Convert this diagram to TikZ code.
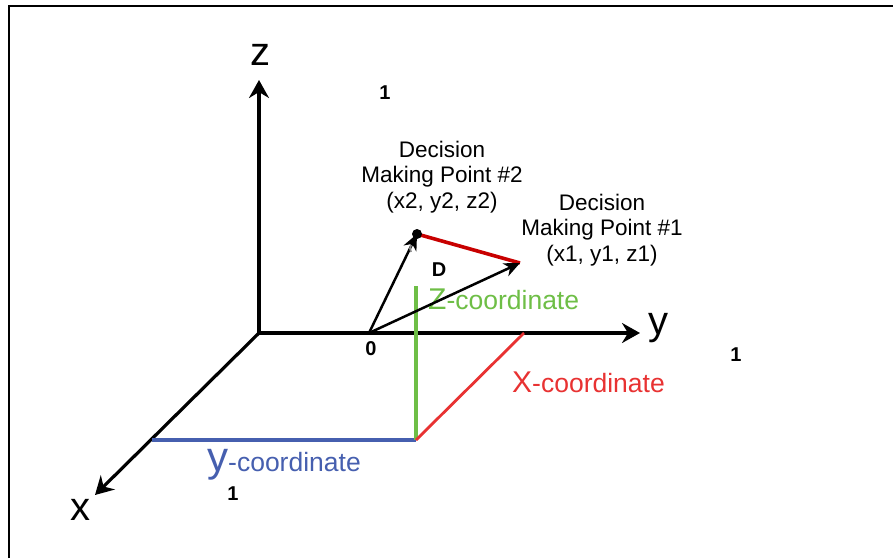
\documentclass[tikz,border=0pt]{standalone}
\usepackage{fontspec}
\setmainfont{Liberation Sans}
\usetikzlibrary{arrows.meta}
\definecolor{zgreen}{RGB}{110,190,70}
\definecolor{xred}{RGB}{232,50,50}
\definecolor{yblue}{RGB}{70,95,175}
\definecolor{dred}{RGB}{200,0,0}
\begin{document}
\begin{tikzpicture}[x=1pt,y=-1pt,
  axis/.style={line width=3.2pt,-{Stealth[length=18pt,width=20pt,inset=6pt]}},
  vec/.style={line width=2.5pt,-{Stealth[length=16pt,width=14pt,inset=5pt]}},
  axlabel/.style={font=\fontsize{40}{40}\selectfont,text=black},
  one/.style={font=\bfseries\fontsize{20}{20}\selectfont},
  dtext/.style={font=\fontsize{22.5}{25.5}\selectfont,align=center},
  every node/.style={inner sep=0pt}]
\useasboundingbox (0,0) rectangle (893,558);
\draw[line width=2pt] (9,558) -- (9,6) -- (893,6);
% axes
\coordinate (O) at (259,333);
\coordinate (zt) at (259,80);
\coordinate (yt) at (640,333);
\coordinate (xt) at (95,495);
\draw[axis] (O) -- (zt);
\draw[axis] (O) -- (yt);
\draw[axis] (O) -- (xt);
\node[axlabel] (zl) at (260,55) {z};
\node[axlabel] (yl) at (658,328) {y};
\node[axlabel] (xl) at (80,510) {x};
% coordinate lines
\coordinate (B1) at (152,440);
\coordinate (B2) at (416,440);
\coordinate (G2) at (416,286);
\coordinate (R2) at (524,333);
\draw[yblue,line width=3.2pt] (B1) -- (B2);
\draw[zgreen,line width=3.2pt] (B2) -- (G2);
\draw[xred,line width=2.8pt] (B2) -- (R2);
\node[text=zgreen,anchor=base west] (zc) at (428,309) {{\fontsize{30}{30}\selectfont Z}{\fontsize{26.5}{26}\selectfont -coordinate}};
\node[text=xred,anchor=base west] (xc) at (512,392) {{\fontsize{30}{30}\selectfont X}{\fontsize{26.5}{26}\selectfont -coordinate}};
\node[text=yblue,anchor=base west] (yc) at (207,471) {{\fontsize{42}{42}\selectfont y}{\fontsize{26.5}{26}\selectfont -coordinate}};
% vectors
\coordinate (V0) at (369,333);
\coordinate (P2) at (417,234);
\coordinate (P1) at (520,263);
\draw[dred,line width=3.6pt] (P2) -- (P1);
\draw[vec] (V0) -- (P2);
\draw[vec] (V0) -- (P1);
\fill (P2) circle (5pt);
\draw[black!45,line width=1.8pt] (411,252) arc (150:210:7);
\node[one] (zero) at (371,349) {0};
\node[one] (D) at (439,270) {D};
\node[one] (o1) at (385,93) {1};
\node[one] (o2) at (736,355) {1};
\node[one] (o3) at (233,494) {1};
\node[dtext] (dm2) at (442,177) {Decision\\Making Point \#2\\(x2, y2, z2)};
\node[dtext] (dm1) at (602,230) {Decision\\Making Point \#1\\(x1, y1, z1)};
\end{tikzpicture}
\end{document}
